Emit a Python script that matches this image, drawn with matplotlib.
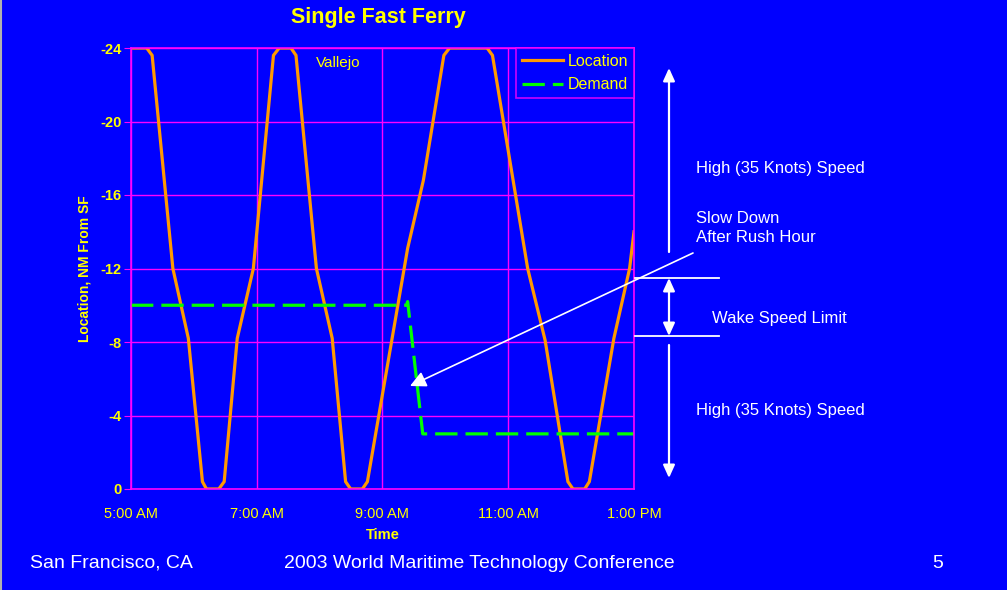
import matplotlib
matplotlib.use("Agg")
from matplotlib import pyplot as plt
from matplotlib.lines import Line2D

plt.rcParams['font.family'] = ['Liberation Sans', 'DejaVu Sans']
plt.rcParams['axes.unicode_minus'] = False

# chart data (time in hours, location in NM from SF, negative = towards Vallejo)
location_time = [5.0, 5.25, 5.336, 5.666, 5.912, 6.136, 6.2, 6.397, 6.482, 6.69, 6.946,
                 7.266, 7.357, 7.544, 7.624, 7.949, 8.2, 8.413, 8.493, 8.68, 8.76,
                 9.4, 9.65, 9.976, 10.066, 10.664, 10.749, 11.309, 11.586, 11.949,
                 12.029, 12.216, 12.29, 12.68, 12.93, 13.0]
location_nm = [-24, -24, -23.6, -12, -8.2, -0.4, 0, 0, -0.4, -8.2, -12,
               -23.6, -24, -24, -23.6, -12, -8.2, -0.4, 0, 0, -0.4,
               -13.1, -16.8, -23.6, -24, -24, -23.6, -12, -8.1, -0.4,
               0, 0, -0.4, -8.2, -12, -14.0]
demand_time = [5.0, 9.38, 9.4, 9.64, 13.0]
demand_nm = [-10, -10, -10.2, -3, -3]

x_ticks = [5, 7, 9, 11, 13]
x_labels = ["5:00 AM", "7:00 AM", "9:00 AM", "11:00 AM", "1:00 PM"]
y_ticks = [0, -4, -8, -12, -16, -20, -24]

BG = "#0000ff"
YEL = "#ffff00"
MAG = "#ff00ff"
W = 1007
H = 590

fig = plt.figure(figsize=(W / 100, H / 100), dpi=100)
fig.patch.set_facecolor(BG)
ax = fig.add_axes([131 / W, 101 / H, (634 - 131) / W, (489 - 48) / H])
ax.set_facecolor(BG)

ax.plot(location_time, location_nm, color="#ff9900", lw=2.3, label="Location",
        solid_joinstyle="miter")
ax.plot(demand_time, demand_nm, color="#00ff00", lw=2.3, ls=(0, (7, 2.5)),
        label="Demand")

ax.set_xlim(5, 13)
ax.set_ylim(0, -24)
ax.set_xticks(x_ticks)
ax.set_xticklabels(x_labels)
ax.set_yticks(y_ticks)
ax.set_yticklabels([str(v) for v in y_ticks])
ax.grid(True, color=MAG, lw=1)
ax.set_axisbelow(True)
for s in ax.spines.values():
    s.set_color(MAG)
    s.set_linewidth(1.2)
ax.tick_params(axis="x", length=0, colors=YEL, labelsize=10.5, pad=13)
ax.tick_params(axis="y", length=5, color=MAG, labelcolor=YEL, labelsize=10.5, pad=2)
for t in ax.get_yticklabels():
    t.set_fontweight("bold")

ax.set_xlabel("Time", color=YEL, fontsize=10.5, fontweight="bold", labelpad=5)
ax.set_ylabel("Location, NM From SF", color=YEL, fontsize=10, fontweight="bold", labelpad=6)
fig.text(378 / W, 1 - 18 / H, "Single Fast Ferry", color=YEL, fontsize=15.5,
         fontweight="bold", ha="center", va="center")
fig.text(316 / W, 1 - 63 / H, "Vallejo", color=YEL, fontsize=11, ha="left", va="center")

leg = ax.legend(loc="upper right", fontsize=11.5, frameon=True, fancybox=False,
                handlelength=2.6, handletextpad=0.3, borderpad=0.35, labelspacing=0.55,
                borderaxespad=0)
leg.get_frame().set_facecolor(BG)
leg.get_frame().set_edgecolor(MAG)
leg.get_frame().set_linewidth(1.2)
for t in leg.get_texts():
    t.set_color(YEL)

# white annotations, positions in figure pixels (origin top-left converted)
def fp(x, y):
    return (x, H - y)

arrow = dict(arrowstyle="-|>,head_length=0.55,head_width=0.25", color="white", lw=1.6,
             mutation_scale=14, shrinkA=0, shrinkB=0)
darrow = dict(arrowstyle="<|-|>,head_length=0.55,head_width=0.25", color="white", lw=1.6,
              mutation_scale=14, shrinkA=0, shrinkB=0)
ax.annotate("", xy=fp(669, 68), xytext=fp(669, 252), xycoords="figure pixels",
            textcoords="figure pixels", arrowprops=arrow, annotation_clip=False)
ax.annotate("", xy=fp(669, 278), xytext=fp(669, 336), xycoords="figure pixels",
            textcoords="figure pixels", arrowprops=darrow, annotation_clip=False)
ax.annotate("", xy=fp(669, 478), xytext=fp(669, 345), xycoords="figure pixels",
            textcoords="figure pixels", arrowprops=arrow, annotation_clip=False)
ax.annotate("", xy=fp(410, 386), xytext=fp(693, 253), xycoords="figure pixels",
            textcoords="figure pixels",
            arrowprops=dict(arrowstyle="-|>,head_length=0.6,head_width=0.3", color="white",
                            lw=1.2, mutation_scale=16, shrinkA=0, shrinkB=0),
            annotation_clip=False)
for yy in (278, 336):
    fig.add_artist(Line2D([635 / W, 719 / W], [1 - yy / H, 1 - yy / H], color="white", lw=1.3))

fig.text(696 / W, 1 - 168 / H, "High (35 Knots) Speed", color="white", fontsize=12,
         ha="left", va="center")
fig.text(696 / W, 1 - 228 / H, "Slow Down\nAfter Rush Hour", color="white", fontsize=12,
         ha="left", va="center", linespacing=1.4)
fig.text(712 / W, 1 - 318 / H, "Wake Speed Limit", color="white", fontsize=12,
         ha="left", va="center")
fig.text(696 / W, 1 - 410 / H, "High (35 Knots) Speed", color="white", fontsize=12,
         ha="left", va="center")

# footer
fig.text(30 / W, 1 - 563 / H, "San Francisco, CA", color="white", fontsize=14,
         ha="left", va="center")
fig.text(284 / W, 1 - 563 / H, "2003 World Maritime Technology Conference", color="white",
         fontsize=14, ha="left", va="center")
fig.text(938 / W, 1 - 563 / H, "5", color="white", fontsize=14, ha="center", va="center")
fig.add_artist(Line2D([1 / W, 1 / W], [0, 1], color="#b0b0b0", lw=1.5))

fig.savefig("out.png", dpi=100, facecolor=BG)
